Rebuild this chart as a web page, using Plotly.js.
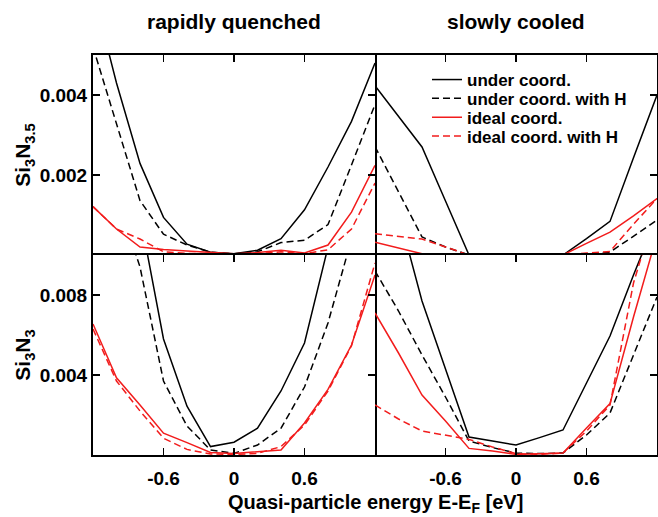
<!DOCTYPE html>
<html>
<head>
<meta charset="utf-8">
<script src="https://cdn.plot.ly/plotly-3.0.1.min.js"></script>
<style>html,body{margin:0;padding:0;background:#fff;}#chart{width:658px;height:517px;}</style>
</head>
<body>
<div id="chart"></div>
<script>
// Quasi-particle energy E-E_F [eV]
const energy = [-1.2, -1.0, -0.8, -0.6, -0.4, -0.2, 0, 0.2, 0.4, 0.6, 0.8, 1.0, 1.2];

const columnTitles = ['rapidly quenched', 'slowly cooled'];
const rowTitles = ['Si<sub>3</sub>N<sub>3.5</sub>', 'Si<sub>3</sub>N<sub>3</sub>'];
const seriesNames = ['under coord.', 'under coord. with H', 'ideal coord.', 'ideal coord. with H'];

// Si3N3.5, rapidly quenched
const n35QuenchUnder  = [0.0066, 0.0043, 0.00229, 0.00094, 0.00027, 0.00007, 0.00003, 0.00012, 0.00041, 0.00113, 0.0022, 0.00334, 0.0048];
const n35QuenchUnderH = [0.0052, 0.0033, 0.00136, 0.00052, 0.00025, 0.00007, 0.00003, 0.00008, 0.00031, 0.00037, 0.00076, 0.00225, 0.00376];
const n35QuenchIdeal  = [0.00121, 0.00065, 0.0002, 0.00014, 0.0001, 0.00006, 0.00003, 0.00006, 0.00012, 0.00005, 0.00025, 0.00107, 0.00224];
const n35QuenchIdealH = [0.00121, 0.00065, 0.0004, 0.00008, 0.00004, 0.00003, 0.00003, 0.00003, 0.00008, 0.00003, 0.00013, 0.00065, 0.0018];

// Si3N3.5, slowly cooled
const n35CoolUnder  = [0.00423, 0.00346, 0.0027, 0.00135, 0, 0, 0, 0, 0, 0.00041, 0.00084, 0.00243, 0.004];
const n35CoolUnderH = [0.00271, 0.00158, 0.00045, 0.0002, 0, 0, 0, 0, 0, 0, 0.00007, 0.00047, 0.00087];
const n35CoolIdeal  = [0.00032, 0.00017, 0.00003, 0, 0, 0, 0, 0, 0, 0.00029, 0.00057, 0.00098, 0.00141];
const n35CoolIdealH = [0.00053, 0.00047, 0.0004, 0.0002, 0, 0, 0, 0, 0, 0.00005, 0.00009, 0.00077, 0.00141];

// Si3N3, rapidly quenched
const n3QuenchUnder  = [0.018, 0.015, 0.012, 0.0058, 0.00244, 0.00042, 0.00064, 0.00134, 0.0032, 0.0056, 0.0099, 0.015, 0.02];
const n3QuenchUnderH = [0.016, 0.013, 0.0094, 0.0037, 0.00145, 0.00025, 0.00008, 0.0005, 0.00134, 0.0034, 0.0066, 0.0109, 0.015];
const n3QuenchIdeal  = [0.00655, 0.00386, 0.0025, 0.00109, 0.00062, 0.00013, 0.00008, 0.00017, 0.00025, 0.0016, 0.00328, 0.0055, 0.009];
const n3QuenchIdealH = [0.0063, 0.0037, 0.0022, 0.00084, 0.00028, 0.00005, 0.00003, 0.00008, 0.00042, 0.0015, 0.0032, 0.00546, 0.0096];

// Si3N3, slowly cooled
const n3CoolUnder  = [0.0165, 0.0121, 0.0077, 0.0043, 0.0009, 0.0007, 0.0005, 0.00087, 0.00125, 0.0036, 0.00595, 0.009, 0.0119];
const n3CoolUnderH = [0.0092, 0.0072, 0.005, 0.0029, 0.0007, 0.00037, 0.0001, 0.00007, 0.0001, 0.001, 0.0021, 0.005, 0.0079];
const n3CoolIdeal  = [0.0071, 0.0051, 0.003, 0.0017, 0.00033, 0.0002, 0.00003, 0.00005, 0.0001, 0.00135, 0.00257, 0.0069, 0.011];
const n3CoolIdealH = [0.0025, 0.0018, 0.0012, 0.001, 0.00078, 0.0004, 0.00007, 0.00003, 0.0001, 0.0012, 0.0025, 0.0086, 0.0125];

const xTickVals = [-0.6, 0, 0.6];
const xTickText = ['-0.6', '0', '0.6'];
const yTickValsTop = [0.002, 0.004];
const yTickValsBottom = [0.004, 0.008];

const FONT = 'Liberation Sans, Arial, Helvetica, sans-serif';
const RED = 'rgb(242,28,28)';
const styles = [
  {color: '#000', dash: 'solid'},
  {color: '#000', dash: '7px,4px'},
  {color: RED, dash: 'solid'},
  {color: RED, dash: '7px,4px'}
];
const legendIds = ['legend', 'legend2', 'legend3', 'legend4'];

const panels = [
  {xa: 'x',  ya: 'y',  series: [n35QuenchUnder, n35QuenchUnderH, n35QuenchIdeal, n35QuenchIdealH], legend: false},
  {xa: 'x2', ya: 'y2', series: [n35CoolUnder, n35CoolUnderH, n35CoolIdeal, n35CoolIdealH], legend: true},
  {xa: 'x3', ya: 'y3', series: [n3QuenchUnder, n3QuenchUnderH, n3QuenchIdeal, n3QuenchIdealH], legend: false},
  {xa: 'x4', ya: 'y4', series: [n3CoolUnder, n3CoolUnderH, n3CoolIdeal, n3CoolIdealH], legend: false}
];

const traces = [];
panels.forEach(p => {
  p.series.forEach((vals, i) => {
    traces.push({
      type: 'scatter', mode: 'lines',
      x: energy, y: vals,
      xaxis: p.xa, yaxis: p.ya,
      name: seriesNames[i],
      showlegend: p.legend,
      legend: legendIds[i],
      line: {color: styles[i].color, dash: styles[i].dash, width: 1.5},
      hoverinfo: 'skip'
    });
  });
});

const tickFont = {family: FONT, size: 19, color: '#000', weight: 'bold'};

function xAxis(domain, anchor, bottomRow) {
  return {
    domain: domain, anchor: anchor, range: [-1.2, 1.2],
    tickmode: 'array', tickvals: xTickVals, ticktext: xTickText,
    ticks: 'inside', ticklen: 7, tickwidth: 1.5, tickcolor: '#000',
    showline: true, linecolor: '#000', linewidth: 2,
    side: bottomRow ? 'bottom' : 'top',
    mirror: bottomRow ? 'ticks' : false,
    showgrid: false, zeroline: false, showticklabels: bottomRow,
    ticklabelstandoff: 5,
    tickfont: tickFont
  };
}
function yAxis(domain, anchor, range, tickvals, title, side) {
  const a = {
    domain: domain, anchor: anchor, range: range,
    tickmode: 'array', tickvals: tickvals, tickformat: '.3f',
    ticks: 'inside', ticklen: 7, tickwidth: 1.5, tickcolor: '#000',
    showline: true, linecolor: '#000', linewidth: 2,
    showgrid: false, zeroline: false,
    tickfont: tickFont, side: side
  };
  if (side === 'left') {
    a.mirror = 'ticks';
    a.showticklabels = true;
    a.title = {text: title, font: {family: FONT, size: 21, color: '#000', weight: 'bold'}, standoff: 3};
  } else {
    a.mirror = false;
    a.showticklabels = false;
  }
  return a;
}

const legendRowsY = [0.9375, 0.8905, 0.8435, 0.7965];
const legendBase = {
  x: 0.5922, xanchor: 'left', yanchor: 'middle',
  bgcolor: 'rgba(0,0,0,0)', borderwidth: 0,
  font: {family: FONT, size: 17, color: '#000', weight: 'bold'},
  itemwidth: 30
};

const layout = {
  width: 658, height: 517,
  margin: {l: 93, r: 1, t: 55, b: 62},
  paper_bgcolor: '#fff', plot_bgcolor: '#fff',
  showlegend: true,
  xaxis:  xAxis([0, 0.5], 'y', false),
  xaxis2: xAxis([0.5, 1], 'y2', false),
  xaxis3: xAxis([0, 0.5], 'y3', true),
  xaxis4: xAxis([0.5, 1], 'y4', true),
  yaxis:  yAxis([0.5, 1], 'x',  [0, 0.005], yTickValsTop, rowTitles[0], 'left'),
  yaxis2: yAxis([0.5, 1], 'x2', [0, 0.005], yTickValsTop, '', 'right'),
  yaxis3: yAxis([0, 0.5], 'x3', [0, 0.01], yTickValsBottom, rowTitles[1], 'left'),
  yaxis4: yAxis([0, 0.5], 'x4', [0, 0.01], yTickValsBottom, '', 'right'),
  annotations: [
    {text: columnTitles[0], xref: 'paper', yref: 'paper', x: 0.25, y: 1.0825, xanchor: 'center', yanchor: 'middle', showarrow: false,
     font: {family: FONT, size: 21, color: '#000', weight: 'bold'}},
    {text: columnTitles[1], xref: 'paper', yref: 'paper', x: 0.75, y: 1.0825, xanchor: 'center', yanchor: 'middle', showarrow: false,
     font: {family: FONT, size: 21, color: '#000', weight: 'bold'}},
    {text: 'Quasi-particle energy E-E<sub>F</sub> [eV]', xref: 'paper', yref: 'paper', x: 0.5, y: -0.122, xanchor: 'center', yanchor: 'middle', showarrow: false,
     font: {family: FONT, size: 20, color: '#000', weight: 'bold'}}
  ]
};
legendIds.forEach((id, i) => {
  layout[id] = Object.assign({}, legendBase, {y: legendRowsY[i]});
});

Plotly.newPlot('chart', traces, layout, {displayModeBar: false, staticPlot: true});
</script>
</body>
</html>
